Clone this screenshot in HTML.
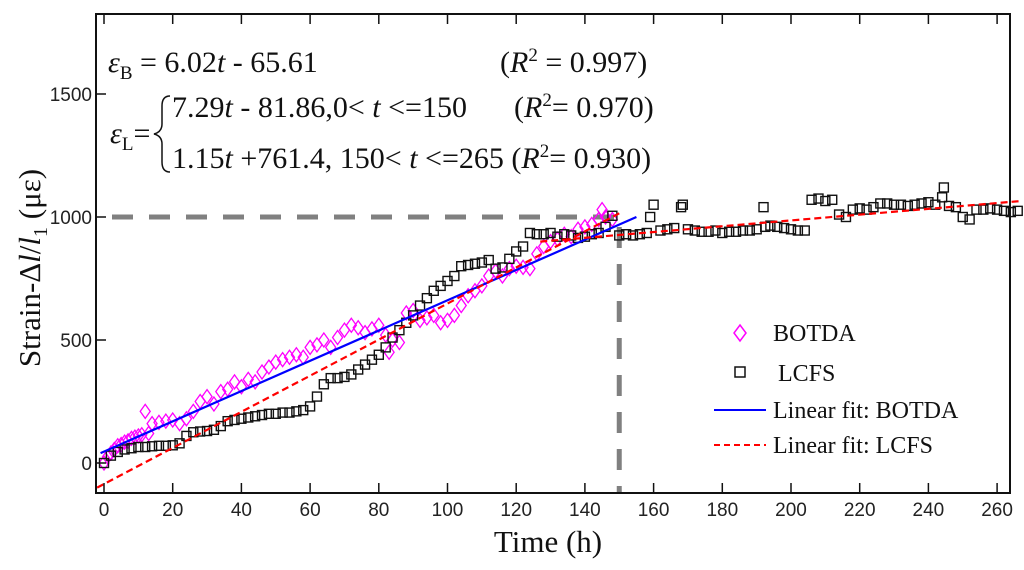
<!DOCTYPE html>
<html><head><meta charset="utf-8"><style>
body{margin:0;background:#fff;}
svg{display:block;}
.tk{font-family:"Liberation Sans",sans-serif;font-size:19px;fill:#222;}
.ser{font-family:"Liberation Serif",serif;fill:#111;}
</style></head><body>
<svg id="chart" width="1024" height="570" viewBox="0 0 1024 570" xmlns="http://www.w3.org/2000/svg">
<g id="marks"></g>
<rect x="96" y="14" width="914" height="479" fill="none" stroke="#111" stroke-width="2"/>
<g id="axes"></g>
<text class="ser" x="548" y="552" font-size="31" text-anchor="middle">Time (h)</text>
<text class="ser" font-size="31" transform="translate(40,268) rotate(-90)" text-anchor="middle">Strain-Δ<tspan font-style="italic">l</tspan>/<tspan font-style="italic">l</tspan><tspan font-size="20" dy="7">1</tspan><tspan dy="-7"> (με)</tspan></text>
<g class="ser" font-size="30">
<text x="108" y="72"><tspan font-style="italic">ε</tspan><tspan font-size="19" dy="7">B</tspan><tspan dy="-7"> = 6.02</tspan><tspan font-style="italic">t</tspan> - 65.61</text>
<text x="500" y="72">(<tspan font-style="italic">R</tspan><tspan font-size="19" dy="-11">2</tspan><tspan dy="11"> = 0.997)</tspan></text>
<text x="110" y="143"><tspan font-style="italic">ε</tspan><tspan font-size="19" dy="7">L</tspan><tspan dy="-7">=</tspan></text>
<path d="M170,96 q-8,0 -8,10 v18 q0,8 -8,10 q8,2 8,10 v18 q0,10 8,10" fill="none" stroke="#111" stroke-width="1.5"/>
<text x="172" y="117">7.29<tspan font-style="italic">t</tspan> - 81.86,0&lt; <tspan font-style="italic">t</tspan> &lt;=150</text>
<text x="514" y="117">(<tspan font-style="italic">R</tspan><tspan font-size="19" dy="-11">2</tspan><tspan dy="11">= 0.970)</tspan></text>
<text x="172" y="168">1.15<tspan font-style="italic">t</tspan> +761.4, 150&lt; <tspan font-style="italic">t</tspan> &lt;=265 (<tspan font-style="italic">R</tspan><tspan font-size="19" dy="-11">2</tspan><tspan dy="11">= 0.930)</tspan></text>
</g>
<g class="ser" font-size="24">
<path d="M740,325 l6,8 l-6,8 l-6,-8z" fill="none" stroke="#f0f" stroke-width="1.5"/>
<text x="773" y="341">BOTDA</text>
<rect x="735" y="367" width="10" height="10" fill="none" stroke="#111" stroke-width="1.5"/>
<text x="778" y="381">LCFS</text>
<line x1="714" y1="410" x2="766" y2="410" stroke="#00f" stroke-width="2"/>
<text x="773" y="418">Linear fit: BOTDA</text>
<line x1="714" y1="445" x2="766" y2="445" stroke="#f00" stroke-width="2" stroke-dasharray="6,4"/>
<text x="773" y="453">Linear fit: LCFS</text>
</g>
</svg>
<script>
const xTicks=[0,20,40,60,80,100,120,140,160,180,200,220,240,260];
const yTicks=[0,500,1000,1500];
const lcfsT=[0,2,4,6,8,10,12,14,16,18,20,22,24,26,28,30,32,34,36,38,40,42,44,46,48,50,52,54,56,58,60,62,64,66,68,70,72,74,76,78,80,82,84,86,88,90,92,94,96,98,100,102,104,106,108,110,112,114,116,118,120,122,124,126,128,130,132,134,136,138,140,142,144,146,148,150,152,154,156,158,159,160,162,164,166,168,168.5,170,172,174,176,178,180,182,184,186,188,190,192,192.5,194,196,198,200,202,204,206,208,210,212,214,216,218,220,222,224,226,228,230,232,234,236,238,240,242,244,244.5,246,248,250,252,254,256,258,260,262,264,266];
const lcfsV=[0,30,45,55,60,65,65,68,70,70,72,80,110,125,128,130,135,150,170,175,180,185,190,195,200,200,205,205,210,215,230,270,320,345,345,350,360,380,400,420,440,470,510,540,570,600,640,670,700,720,740,760,800,805,810,815,825,790,795,830,860,880,935,930,930,935,920,930,925,915,920,930,935,960,1005,925,930,925,930,935,1000,1050,945,950,955,1040,1050,950,945,940,940,945,935,940,940,945,945,950,1040,960,965,960,955,950,945,945,1070,1075,1065,1070,1010,1000,1030,1035,1030,1040,1055,1055,1050,1050,1045,1050,1055,1060,1050,1080,1120,1045,1040,1000,990,1030,1030,1035,1030,1025,1020,1025];
const botT=[0,1,2,3,4,5,6,7,8,9,10,11,12,13,14,16,18,20,22,24,26,28,30,32,34,36,38,40,42,44,46,48,50,52,54,56,58,60,62,64,66,68,70,72,74,76,78,80,82,83,84,86,88,90,92,94,96,98,100,102,104,106,108,110,112,114,116,118,120,122,124,126,128,130,132,134,136,138,140,142,144,145,146,148];
const botV=[0,25,40,55,70,75,85,90,100,105,110,115,210,120,160,165,170,175,160,180,210,250,270,240,290,300,330,310,340,330,370,390,410,420,430,440,430,470,480,500,470,510,540,560,550,530,545,560,520,450,500,490,610,620,580,590,600,570,580,600,640,680,700,720,760,780,760,790,800,795,790,850,880,900,910,930,920,950,960,970,990,1030,1000,990];
const fitBotT=[-1,155];
const fitBotV=[40,1000];
const fitL1T=[-2,150];
const fitL1V=[-100,1015];
const fitL2T=[127,267];
const fitL2V=[900,1065];
const X=t=>104+t*3.435;
const Y=v=>463-v*0.246;
const NS='http://www.w3.org/2000/svg';
const marks=document.getElementById('marks');
const axes=document.getElementById('axes');
function mk(tag,parent,attrs){const e=document.createElementNS(NS,tag);for(const k in attrs)e.setAttribute(k,attrs[k]);parent.appendChild(e);return e;}
let g1=mk('line',marks,{x1:112,y1:Y(1000),x2:X(150),y2:Y(1000),stroke:'#808080','stroke-width':5,'stroke-dasharray':'21,16'});


let g2=mk('line',marks,{x1:X(150),y1:Y(1000)+10,x2:X(150),y2:493,stroke:'#808080','stroke-width':5,'stroke-dasharray':'21,16'});


botT.forEach((t,i)=>{const x=X(t),y=Y(botV[i]);
 const p=mk('path',marks,{d:`M${x},${y-7}l5,7l-5,7l-5,-7z`,fill:'none',stroke:'#f0f','stroke-width':1.3});
 
 });
lcfsT.forEach((t,i)=>{const x=X(t),y=Y(lcfsV[i]);
 const r=mk('rect',marks,{x:x-4.5,y:y-4.5,width:9,height:9,fill:'none',stroke:'#111','stroke-width':1.4});
 
 });
let l1=mk('line',marks,{x1:X(fitBotT[0]),y1:Y(fitBotV[0]),x2:X(fitBotT[1]),y2:Y(fitBotV[1]),stroke:'#00f','stroke-width':2.2});


let l2=mk('line',marks,{x1:X(fitL1T[0]),y1:Y(fitL1V[0]),x2:X(fitL1T[1]),y2:Y(fitL1V[1]),stroke:'#f00','stroke-width':2.2,'stroke-dasharray':'7,4'});


let l3=mk('line',marks,{x1:X(fitL2T[0]),y1:Y(fitL2V[0]),x2:X(fitL2T[1]),y2:Y(fitL2V[1]),stroke:'#f00','stroke-width':2.2,'stroke-dasharray':'7,4'});


xTicks.forEach(t=>{const x=X(t);
 mk('line',axes,{x1:x,y1:493,x2:x,y2:483,stroke:'#111','stroke-width':1.5});
 mk('line',axes,{x1:x,y1:14,x2:x,y2:24,stroke:'#111','stroke-width':1.5});
 const tx=mk('text',axes,{x:x,y:516,'text-anchor':'middle',class:'tk'});tx.textContent=t;
 
 });
yTicks.forEach(v=>{const y=Y(v);
 mk('line',axes,{x1:96,y1:y,x2:106,y2:y,stroke:'#111','stroke-width':1.5});
 const tx=mk('text',axes,{x:92,y:y+7,'text-anchor':'end',class:'tk'});tx.textContent=v;
 
 });
</script>
</body></html>
